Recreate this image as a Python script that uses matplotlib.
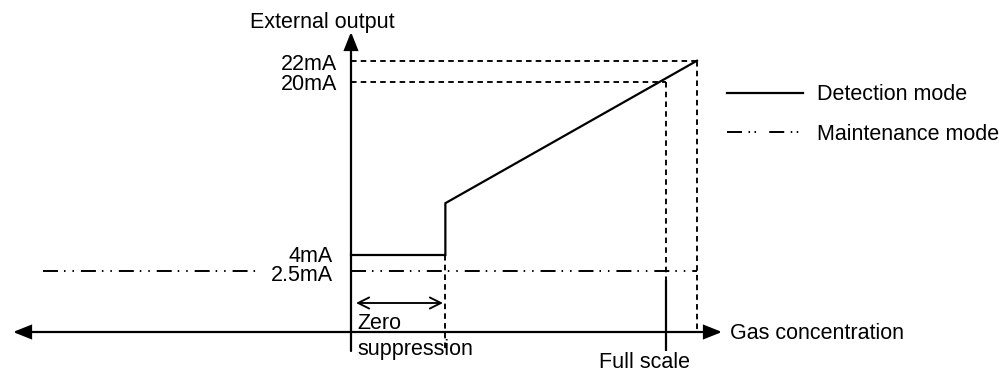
import matplotlib
matplotlib.use("Agg")
import matplotlib.pyplot as plt
from matplotlib.patches import FancyArrowPatch

# ---- data -------------------------------------------------------------
# Output levels (mA) marked on the vertical axis
levels = [22, 20, 4, 2.5]
level_labels = ["22mA", "20mA", "4mA", "2.5mA"]

# Gas concentration (% of full scale)
zero_suppression = 30
full_scale = 100
over_range = 110

# Detection mode: output held at 4mA inside the zero-suppression band,
# then rising linearly up to 22mA
detect_x = [0, 30, 30, 110]
detect_y = [4, 4, 8.8, 22]

# Maintenance mode: constant 2.5mA
maintenance_level = 2.5

# ---- figure -----------------------------------------------------------
W, H = 1008, 371
plt.rcParams["font.family"] = ["Liberation Sans", "DejaVu Sans"]
plt.rcParams["lines.scale_dashes"] = False
FS = 15.5

fig = plt.figure(figsize=(W / 100, H / 100), dpi=100)
ax = fig.add_axes([0, 0, 1, 1])
ax.axis("off")

# scale: 0 % at column 351, 110 % at column 697; 4mA at row 255, 20mA at row 82
XS = (697 - 351) / 110.0
YS = (255 - 82.3) / 16.0
ax.set_xlim(-351 / XS, (W - 351) / XS)
ax.set_ylim(4 - (H - 255) / YS, 4 + 255 / YS)


def px(col, row):
    """Layout helper: pixel position (from top-left) -> data coordinates."""
    return ax.transData.inverted().transform((col, H - row))


def dx(col):
    return px(col, 0)[0]


def dy(row):
    return px(0, row)[1]


BLACK = "black"
LW = 1.6
LW_DASH = 1.35
DASH = (0, (4.0, 3.0))
DASHDOT = (0, (10.8, 4.3, 1.1, 5.0, 1.1, 5.0))
DASHDOT_LEG = (0, (10.8, 4.7, 1.1, 3.2, 1.1, 9.5))

axis_y = dy(332)
below = dy(351)

# ---- axes with arrow heads -------------------------------------------
ax.add_patch(FancyArrowPatch((0, below), (0, dy(32)),
                             arrowstyle="-|>,head_length=10.8,head_width=4.3",
                             mutation_scale=1, color=BLACK, lw=LW,
                             shrinkA=0, shrinkB=0, joinstyle="miter"))
ax.add_patch(FancyArrowPatch((dx(13), axis_y), (dx(722), axis_y),
                             arrowstyle="<|-|>,head_length=10.8,head_width=4.3",
                             mutation_scale=1, color=BLACK, lw=LW,
                             shrinkA=0, shrinkB=0, joinstyle="miter"))

# ---- guide lines ------------------------------------------------------
ax.plot([0, over_range], [levels[0], levels[0]], color=BLACK, lw=LW_DASH, ls=DASH)
ax.plot([0, full_scale], [levels[1], levels[1]], color=BLACK, lw=LW_DASH, ls=DASH)
ax.plot([over_range, over_range], [levels[0], axis_y], color=BLACK, lw=LW_DASH, ls=DASH)
ax.plot([full_scale, full_scale], [levels[1], dy(280)], color=BLACK, lw=LW_DASH, ls=DASH)
ax.plot([full_scale, full_scale], [dy(280), below], color=BLACK, lw=LW,
        solid_capstyle="butt")
ax.plot([zero_suppression, zero_suppression], [levels[2], below],
        color=BLACK, lw=LW_DASH, ls=DASH)

# ---- maintenance mode -------------------------------------------------
ax.plot([dx(43), dx(257)], [maintenance_level, maintenance_level],
        color=BLACK, lw=1.4, ls=DASHDOT)
ax.plot([0, over_range], [maintenance_level, maintenance_level],
        color=BLACK, lw=1.4, ls=DASHDOT)

# ---- detection mode ---------------------------------------------------
ax.plot(detect_x, detect_y, color=BLACK, lw=LW, solid_joinstyle="miter")

# ---- zero suppression span -------------------------------------------
ax.add_patch(FancyArrowPatch((dx(356), dy(303)), (dx(443), dy(303)),
                             arrowstyle="<->,head_length=8,head_width=4",
                             mutation_scale=1, color=BLACK, lw=1.35,
                             shrinkA=0, shrinkB=0))

# ---- level labels -----------------------------------------------------
label_right = [337, 337, 333, 333]
label_base = [70, 90, 262, 281]
for lab, col, row in zip(level_labels, label_right, label_base):
    ax.text(dx(col), dy(row), lab, ha="right", va="baseline", fontsize=FS)

ax.text(dx(250), dy(28), "External output", ha="left", va="baseline", fontsize=FS)
ax.text(dx(357), dy(329), "Zero", ha="left", va="baseline", fontsize=FS)
ax.text(dx(357), dy(355), "suppression", ha="left", va="baseline", fontsize=FS)
ax.text(dx(599), dy(368), "Full scale", ha="left", va="baseline", fontsize=FS)
ax.text(dx(730), dy(339), "Gas concentration", ha="left", va="baseline", fontsize=FS)

# ---- legend -----------------------------------------------------------
ax.plot([dx(727), dx(803)], [dy(93), dy(93)], color=BLACK, lw=LW)
ax.text(dx(817), dy(100), "Detection mode", ha="left", va="baseline", fontsize=FS)
ax.plot([dx(727), dx(803)], [dy(132), dy(132)], color=BLACK, lw=1.4, ls=DASHDOT_LEG)
ax.text(dx(817), dy(140), "Maintenance mode", ha="left", va="baseline", fontsize=FS)

fig.savefig("out.png", dpi=100)
